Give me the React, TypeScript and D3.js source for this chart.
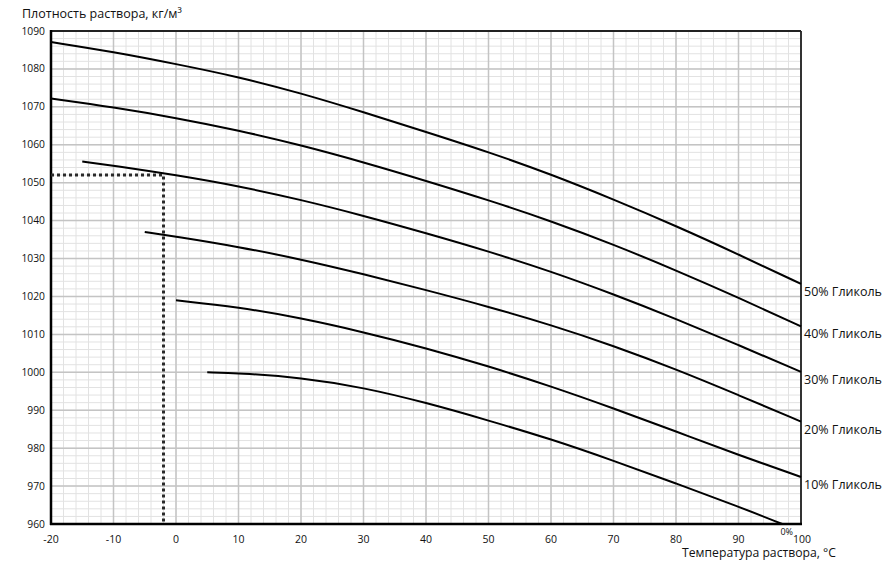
import React from "react";
import * as d3 from "d3";

const W = 883, H = 565;
const M = { left: 51, right: 82, top: 31, bottom: 41 };

const xTicks = [-20, -10, 0, 10, 20, 30, 40, 50, 60, 70, 80, 90, 100];
const yTicks = [960, 970, 980, 990, 1000, 1010, 1020, 1030, 1040, 1050, 1060, 1070, 1080, 1090];

const seriesNames = ["50% Гликоль", "40% Гликоль", "30% Гликоль", "20% Гликоль", "10% Гликоль", "0%"];

const g50T = [-20, -10, 0, 10, 20, 30, 40, 50, 60, 70, 80, 90, 100];
const g50D = [1087.1, 1084.5, 1081.3, 1077.9, 1073.6, 1068.6, 1063.4, 1058.1, 1052.2, 1045.6, 1038.6, 1031.1, 1023.3];

const g40T = [-20, -10, 0, 10, 20, 30, 40, 50, 60, 70, 80, 90, 100];
const g40D = [1072.2, 1069.9, 1067.1, 1063.8, 1059.9, 1055.4, 1050.5, 1045.4, 1039.9, 1033.7, 1026.9, 1019.7, 1012.1];

const g30T = [-15, -10, 0, 10, 20, 30, 40, 50, 60, 70, 80, 90, 100];
const g30D = [1055.6, 1054.5, 1052.0, 1049.1, 1045.5, 1041.3, 1036.7, 1031.9, 1026.6, 1020.6, 1014.1, 1007.2, 1000.1];

const g20T = [-5, 0, 10, 20, 30, 40, 50, 60, 70, 80, 90, 100];
const g20D = [1037.0, 1035.8, 1033.1, 1029.8, 1025.9, 1021.7, 1017.3, 1012.5, 1007.0, 1000.8, 994.0, 987.0];

const g10T = [0, 10, 20, 30, 40, 50, 60, 70, 80, 90, 100];
const g10D = [1019.0, 1017.2, 1014.3, 1010.6, 1006.4, 1001.6, 996.3, 990.5, 984.4, 978.2, 972.4];

const g0T = [5, 10, 20, 30, 40, 50, 60, 70, 80, 90, 97];
const g0D = [1000.0, 999.8, 998.6, 996.0, 992.0, 987.3, 982.4, 976.7, 970.7, 964.6, 960.0];

const seriesT = [g50T, g40T, g30T, g20T, g10T, g0T];
const seriesD = [g50D, g40D, g30D, g20D, g10D, g0D];

const markerT = -2;
const markerD = 1052;

export default function App() {
  const x = d3.scaleLinear().domain([-20, 100]).range([M.left, W - M.right]);
  const y = d3.scaleLinear().domain([960, 1090]).range([H - M.bottom, M.top]);
  const minorX = d3.range(-20, 100.1, 2);
  const minorY = d3.range(960, 1090.1, 2);
  const line = d3
    .line<[number, number]>()
    .x((d) => x(d[0]))
    .y((d) => y(d[1]))
    .curve(d3.curveBasis);
  const font = "'Open Sans', 'Noto Sans', sans-serif";
  const x0 = x(-20), x1 = x(100), y0 = y(960), y1 = y(1090);

  return (
    <svg
      width={W}
      height={H}
      style={{ position: "absolute", left: 0, top: 0, background: "#fff" }}
      fontFamily={font}
    >
      <rect x={0} y={0} width={W} height={H} fill="#fff" />
      {minorX.map((v) => (
        <line key={"mx" + v} x1={x(v)} x2={x(v)} y1={y1} y2={y0} stroke="#e2e2e2" strokeWidth={1} />
      ))}
      {minorY.map((v) => (
        <line key={"my" + v} x1={x0} x2={x1} y1={y(v)} y2={y(v)} stroke="#e2e2e2" strokeWidth={1} />
      ))}
      {xTicks.map((v) => (
        <line key={"Mx" + v} x1={x(v)} x2={x(v)} y1={y1} y2={y0} stroke="#c4c4c4" strokeWidth={1.5} />
      ))}
      {yTicks.map((v) => (
        <line key={"My" + v} x1={x0} x2={x1} y1={y(v)} y2={y(v)} stroke="#c4c4c4" strokeWidth={1.5} />
      ))}
      {/* frame */}
      <line x1={x0} x2={x1} y1={y1} y2={y1} stroke="#222" strokeWidth={1.8} />
      <line x1={x1} x2={x1} y1={y1} y2={y0} stroke="#222" strokeWidth={1.8} />
      <line x1={x0} x2={x0} y1={y1 - 1} y2={y0 + 1} stroke="#000" strokeWidth={2.5} />
      <line x1={x0 - 1} x2={x1 + 1} y1={y0} y2={y0} stroke="#000" strokeWidth={2.5} />

      {/* marker dotted lines */}
      <path
        d={`M${x0},${y(markerD)}H${x(markerT)}V${y0}`}
        fill="none"
        stroke="#2a2a2a"
        strokeWidth={3}
        strokeDasharray="3,3"
      />

      {seriesT.map((ts, i) => (
        <path
          key={"s" + i}
          d={line(ts.map((t, j) => [t, seriesD[i][j]] as [number, number])) || ""}
          fill="none"
          stroke="#000"
          strokeWidth={2}
        />
      ))}

      {/* series labels */}
      {seriesNames.slice(0, 5).map((n, i) => {
        const d = seriesD[i];
        return (
          <text key={"l" + i} x={x1 + 3} y={y(d[d.length - 1]) + 12} fontSize={12.5} fill="#111">
            {n}
          </text>
        );
      })}
      <text x={793} y={535} fontSize={9} textAnchor="end" fill="#111">
        {seriesNames[5]}
      </text>

      {/* y tick labels */}
      {yTicks.map((v) => (
        <text key={"yt" + v} x={x0 - 6} y={y(v) + 3.5} fontSize={10.3} textAnchor="end" fill="#111">
          {v}
        </text>
      ))}
      {xTicks.map((v) => (
        <text key={"xt" + v} x={x(v) + (v === 100 ? 1 : 0)} y={y0 + 18.5} fontSize={10.5} textAnchor="middle" fill="#111">
          {v}
        </text>
      ))}

      <text x={22} y={18} fontSize={12.5} fill="#111">
        Плотность раствора, кг/м³
      </text>
      <text x={836} y={557} fontSize={12.2} textAnchor="end" fill="#111">
        Температура раствора, °C
      </text>
    </svg>
  );
}
